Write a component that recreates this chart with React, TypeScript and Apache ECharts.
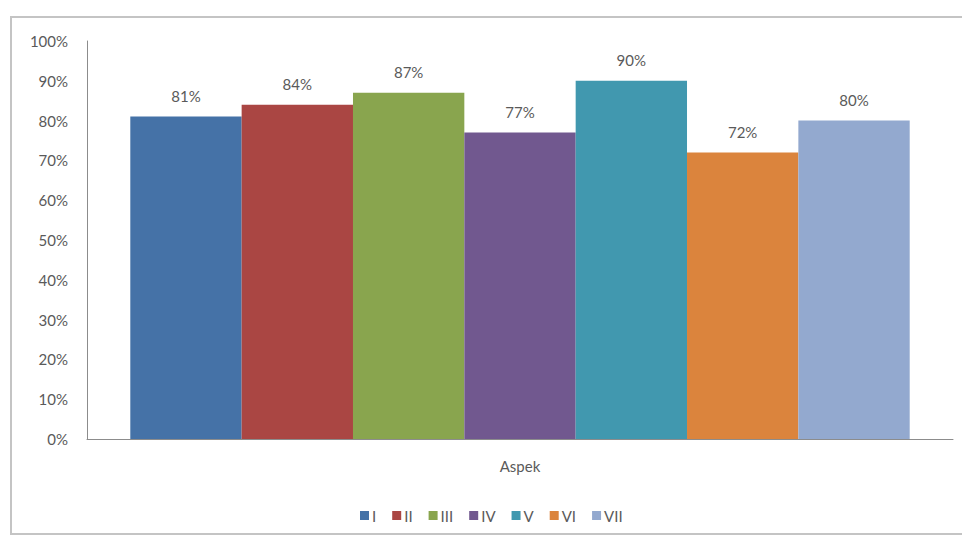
import React, { useEffect, useRef } from "react";
import * as echarts from "echarts";

// Category and series data
const categories = ["Aspek"];
const seriesNames = ["I", "II", "III", "IV", "V", "VI", "VII"];
const seriesValues = [81, 84, 87, 77, 90, 72, 80];
const seriesColors = ["#4572A7", "#AA4643", "#89A54E", "#71588F", "#4198AF", "#DB843D", "#93A9CF"];
const yTicks = { min: 0, max: 100, interval: 10 };

const FONT = "Lato, 'Open Sans', sans-serif";
const TEXT = "#5a5a5a";
const FS = 15;

export default function App() {
  const ref = useRef<HTMLDivElement>(null);

  useEffect(() => {
    document.body.style.margin = "0";
    if (!ref.current) return;
    const chart = echarts.init(ref.current, undefined, { renderer: "svg" });

    chart.setOption({
      animation: false,
      backgroundColor: "#ffffff",
      textStyle: { fontFamily: FONT },
      graphic: [
        {
          type: "rect",
          shape: { x: 11, y: 17, width: 960, height: 517 },
          style: { fill: "none", stroke: "#c4c4c4", lineWidth: 2 },
          silent: true,
          z: -1,
        },
      ],
      grid: { left: 87, right: 9, top: 41, bottom: 96, containLabel: false },
      legend: {
        data: seriesNames,
        left: 355,
        top: 503,
        itemWidth: 9,
        itemHeight: 9,
        itemGap: 16,
        icon: "rect",
        textStyle: { color: TEXT, fontSize: FS, fontFamily: FONT, padding: [0, 0, 0, -2] },
      },
      xAxis: {
        type: "category",
        data: categories,
        axisLine: { show: true, lineStyle: { color: "#8c8c8c", width: 1 } },
        axisTick: { show: false },
        axisLabel: { color: TEXT, fontSize: FS, fontFamily: FONT, margin: 19 },
      },
      yAxis: {
        type: "value",
        min: yTicks.min,
        max: yTicks.max,
        interval: yTicks.interval,
        splitLine: { show: false },
        axisLine: { show: true, lineStyle: { color: "#8c8c8c", width: 1 } },
        axisTick: { show: false },
        axisLabel: {
          color: TEXT,
          fontSize: FS,
          fontFamily: FONT,
          margin: 19,
          formatter: (v: number) => `${v}%`,
        },
      },
      series: seriesNames.map((name, i) => ({
        name,
        type: "bar",
        data: [seriesValues[i]],
        barGap: "0%",
        barCategoryGap: "10%",
        itemStyle: { color: seriesColors[i] },
        label: {
          show: true,
          position: "top",
          distance: 13,
          color: TEXT,
          fontSize: FS,
          fontFamily: FONT,
          formatter: (p: any) => `${p.value}%`,
        },
      })),
    });

    return () => chart.dispose();
  }, []);

  return <div ref={ref} style={{ width: 962, height: 535 }} />;
}
